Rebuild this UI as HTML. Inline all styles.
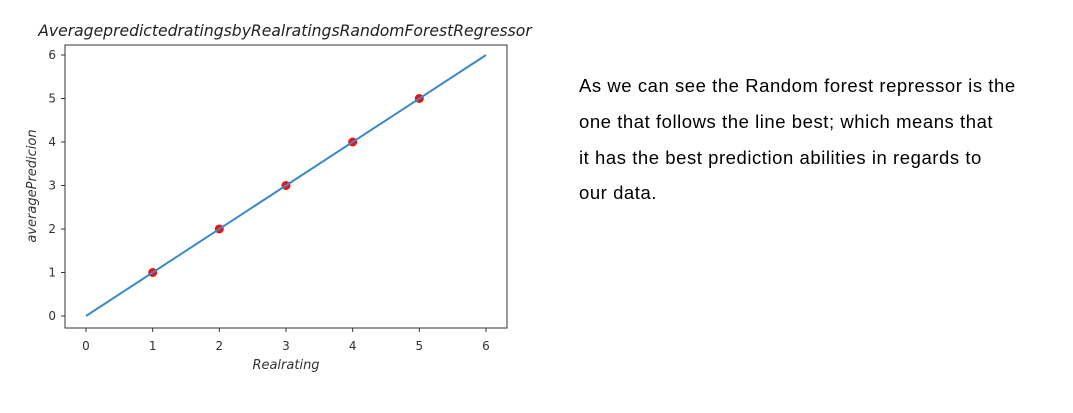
<!DOCTYPE html>
<html><head><meta charset="utf-8"><style>
body{margin:0;background:#fff;width:1073px;height:413px;overflow:hidden;font-family:"Liberation Sans",sans-serif}
.p{position:absolute;left:579px;font-family:"Liberation Sans",sans-serif;font-size:18.5px;letter-spacing:0.55px;color:#000;margin:0;white-space:nowrap}
</style></head><body>
<svg id="chart" width="560" height="413" style="position:absolute;left:0;top:0" font-family="DejaVu Sans, sans-serif">
<text x="285" y="36" text-anchor="middle" font-size="15.6" font-style="italic" fill="#222">AveragepredictedratingsbyRealratingsRandomForestRegressor</text>
<rect x="65" y="45" width="442" height="283" fill="none" stroke="#333" stroke-width="1"/>
<g id="ticks"></g>
<text x="286" y="369" text-anchor="middle" font-size="13" font-style="italic" fill="#333">Realrating</text>
<text transform="translate(36,186) rotate(-90)" text-anchor="middle" font-size="13" font-style="italic" fill="#333">averagePredicion</text>
<g id="marks"></g>
</svg>
<p class="p" style="top:75px">As we can see the Random forest repressor is the</p>
<p class="p" style="top:111px">one that follows the line best; which means that</p>
<p class="p" style="top:147px">it has the best prediction abilities in regards to</p>
<p class="p" style="top:182px">our data.</p>
<script>
const xTicks=[0,1,2,3,4,5,6];
const yTicks=[0,1,2,3,4,5,6];
const lineX=[0,6];
const lineY=[0,6];
const pointX=[1,2,3,4,5];
const pointY=[1,2,3,4,5];
const NS="http://www.w3.org/2000/svg";
const sx=v=>86+v*(486-86)/6;
const sy=v=>316-v*(316-55)/6;
const tg=document.getElementById('ticks'), mg=document.getElementById('marks');
function mk(tag,attrs,parent){const e=document.createElementNS(NS,tag);for(const k in attrs)e.setAttribute(k,attrs[k]);parent.appendChild(e);return e;}
xTicks.forEach(v=>{
 const l=mk('line',{x1:sx(v),x2:sx(v),y1:328,y2:332,stroke:'#333'},tg);
 
 
 const t=mk('text',{x:sx(v),y:350,'text-anchor':'middle','font-size':'12',fill:'#333'},tg);t.textContent=v;
 
 
});
yTicks.forEach(v=>{
 const l=mk('line',{x1:61,x2:65,y1:sy(v),y2:sy(v),stroke:'#333'},tg);
 
 
 const t=mk('text',{x:56,y:sy(v)+4,'text-anchor':'end','font-size':'12',fill:'#333'},tg);t.textContent=v;
 
 
});
const ln=mk('polyline',{points:lineX.map((x,i)=>sx(x)+','+sy(lineY[i])).join(' '),fill:'none',stroke:'#3b8bc4','stroke-width':'2'},mg);


pointX.forEach((x,i)=>{
 const c=mk('circle',{cx:sx(x),cy:sy(pointY[i]),r:4.5,fill:'#f01010'},mg);
 
 
});
mg.appendChild(ln);
</script>
</body></html>
